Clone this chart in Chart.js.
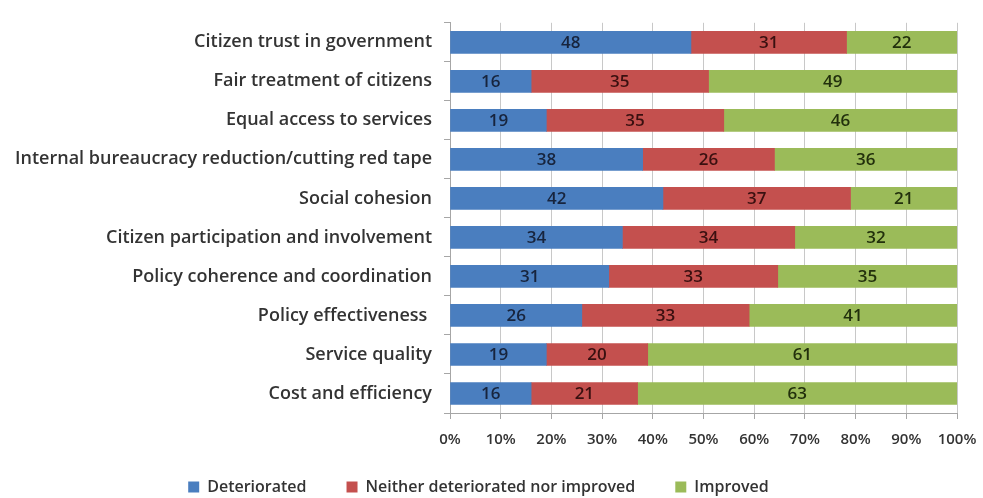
<!DOCTYPE html>
<html>
<head>
<meta charset="utf-8">
<script src="https://cdn.jsdelivr.net/npm/chart.js@4.4.0/dist/chart.umd.min.js"></script>
<style>
  html, body { margin: 0; padding: 0; background: #fff; }
  #wrap { width: 983px; height: 498px; }
</style>
</head>
<body>
<div id="wrap"><canvas id="grafico"></canvas></div>
<script>
// categorias (de cima para baixo)
const categorias = [
    "Citizen trust in government",
    "Fair treatment of citizens",
    "Equal access to services",
    "Internal bureaucracy reduction/cutting red tape",
    "Social cohesion",
    "Citizen participation and involvement",
    "Policy coherence and coordination",
    "Policy effectiveness ",
    "Service quality",
    "Cost and efficiency"
];

const deteriorated = [48, 16, 19, 38, 42, 34, 31, 26, 19, 16];
const neither      = [31, 35, 35, 26, 37, 34, 33, 33, 20, 21];
const improved     = [22, 49, 46, 36, 21, 32, 35, 41, 61, 63];

const nomesSeries = ["Deteriorated", "Neither deteriorated nor improved", "Improved"];
const coresSeries = ["#4A7EBF", "#C4504E", "#9BBB59"];
const coresTexto  = ["#17243d", "#3a1010", "#22300c"];

const fonte = "'Open Sans', Lato, sans-serif";

// barras empilhadas a 100%: cada linha dividida pelo total da linha
const totais = categorias.map((_, i) => deteriorated[i] + neither[i] + improved[i]);
const percentual = serie => serie.map((v, i) => v / totais[i] * 100);

const series = [deteriorated, neither, improved];

// escreve o valor bruto no centro de cada segmento
const rotulosPlugin = {
    id: "rotulos",
    afterDatasetsDraw(chart) {
        const ctx = chart.ctx;
        ctx.save();
        ctx.font = "600 17px " + fonte;
        ctx.textAlign = "center";
        ctx.textBaseline = "middle";
        chart.data.datasets.forEach((ds, d) => {
            const meta = chart.getDatasetMeta(d);
            meta.data.forEach((bar, i) => {
                const x = (bar.x + bar.base) / 2;
                ctx.fillStyle = coresTexto[d];
                ctx.fillText(String(series[d][i]), x, bar.y + 1);
            });
        });
        ctx.restore();
    }
};

// sobe a legenda um pouco (o padding dela vale para cima e para os lados)
const legendaPlugin = {
    id: "legendaAcima",
    afterLayout(chart) {
        chart.legend.top -= 18;
        chart.legend.height += 18;
    }
};

const ctx = document.getElementById("grafico").getContext("2d");
new Chart(ctx, {
    type: "bar",
    data: {
        labels: categorias,
        datasets: series.map((s, d) => ({
            label: nomesSeries[d],
            data: percentual(s),
            backgroundColor: coresSeries[d],
            borderWidth: 0,
            barThickness: 22
        }))
    },
    options: {
        indexAxis: "y",
        responsive: true,
        maintainAspectRatio: false,
        animation: false,
        layout: { padding: { top: 19, right: 26, left: 0, bottom: 0 } },
        plugins: {
            legend: {
                position: "bottom",
                maxHeight: 41,
                labels: {
                    boxWidth: 11,
                    boxHeight: 11,
                    padding: 40,
                    color: "#333",
                    font: { family: fonte, size: 16, weight: 600 }
                }
            },
            tooltip: { enabled: false },
            title: { display: false }
        },
        scales: {
            x: {
                stacked: true,
                min: 0,
                max: 100,
                // o rótulo "100%" pode passar da área do gráfico
                afterFit: s => { s.paddingLeft = 0; s.paddingRight = 0; s.height = 44; },
                ticks: {
                    stepSize: 10,
                    color: "#333",
                    padding: 12,
                    font: { family: fonte, size: 15, weight: 600 },
                    callback: v => v + "%"
                },
                grid: { color: "#c8c8c8", tickLength: 6, tickColor: "#a6a6a6" },
                border: { color: "#a6a6a6" }
            },
            y: {
                stacked: true,
                afterFit: s => { s.width = 450; },
                ticks: {
                    color: "#333",
                    padding: 12,
                    font: { family: fonte, size: 18, weight: 600 }
                },
                grid: { drawOnChartArea: false, offset: true, tickLength: 6, tickColor: "#a6a6a6" },
                border: { color: "#a6a6a6" }
            }
        }
    },
    plugins: [rotulosPlugin, legendaPlugin]
});
</script>
</body>
</html>
